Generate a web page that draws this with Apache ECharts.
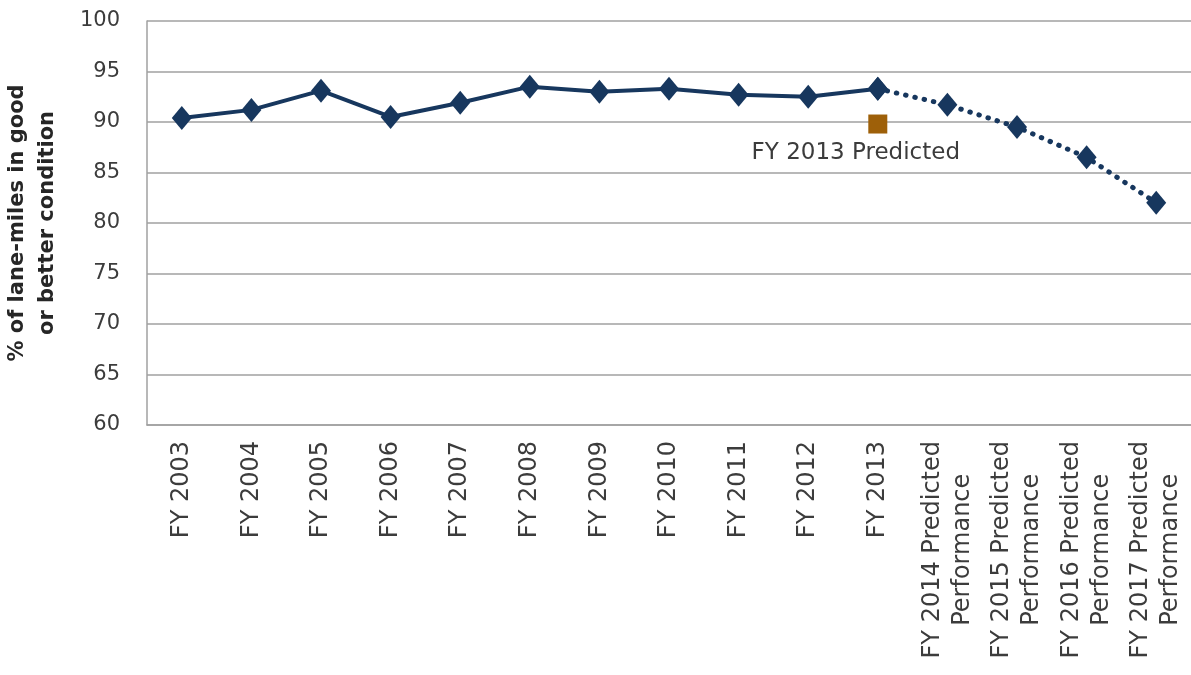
<!DOCTYPE html>
<html>
<head>
<meta charset="utf-8">
<script src="https://cdn.jsdelivr.net/npm/echarts@6/dist/echarts.min.js"></script>
<style>
  html, body { margin: 0; padding: 0; background: #ffffff; }
  #chart { width: 1191px; height: 675px; }
</style>
</head>
<body>
<div id="chart"></div>
<script>
// Fiscal years on the category axis
const categories = [
  'FY 2003', 'FY 2004', 'FY 2005', 'FY 2006', 'FY 2007', 'FY 2008',
  'FY 2009', 'FY 2010', 'FY 2011', 'FY 2012', 'FY 2013',
  'FY 2014 Predicted\nPerformance', 'FY 2015 Predicted\nPerformance',
  'FY 2016 Predicted\nPerformance', 'FY 2017 Predicted\nPerformance'
];

// Measured condition, FY 2003 - FY 2013
const actualValues = [90.4, 91.2, 93.1, 90.5, 91.9, 93.5, 93.0, 93.3, 92.7, 92.5, 93.3,
  null, null, null, null];

// Projected condition, continuing from FY 2013
const predictedValues = [null, null, null, null, null, null, null, null, null, null, 93.3,
  91.7, 89.5, 86.5, 82.0];

// The value that had been predicted for FY 2013
const fy2013PredictedLabel = 'FY 2013 Predicted';
const fy2013Predicted = 89.8;

// Value axis ticks
const yMin = 60;
const yMax = 100;
const yStep = 5;

const navy = '#17375E';
const brown = '#9E6009';
const font = '"DejaVu Sans", Verdana, sans-serif';

const chart = echarts.init(document.getElementById('chart'), null, { renderer: 'canvas' });

chart.setOption({
  animation: false,
  backgroundColor: '#ffffff',
  grid: { left: 147, right: 0, top: 21, bottom: 250, containLabel: false, outerBoundsMode: 'none' },
  xAxis: {
    type: 'category',
    data: categories,
    boundaryGap: true,
    axisLine: { show: true, lineStyle: { color: '#A0A0A0', width: 1.5 } },
    axisTick: { show: false },
    axisLabel: {
      interval: 0,
      rotate: 90,
      margin: 16,
      fontFamily: font,
      fontSize: 24,
      color: '#3C3C3C',
      formatter: function (v) {
        return v.split('\n').map(function (s) { return '{c|' + s + '}'; }).join('\n');
      },
      rich: {
        c: { align: 'center', fontFamily: font, fontSize: 24, color: '#3C3C3C', lineHeight: 30 }
      }
    }
  },
  yAxis: {
    type: 'value',
    min: yMin,
    max: yMax,
    interval: yStep,
    name: '% of lane-miles in good\nor better condition',
    nameLocation: 'middle',
    nameGap: 84,
    nameTextStyle: {
      fontFamily: font,
      fontSize: 21,
      fontWeight: 'bold',
      color: '#262626',
      lineHeight: 30
    },
    axisLine: { show: true, lineStyle: { color: '#A0A0A0', width: 1.5 } },
    axisTick: { show: false },
    axisLabel: {
      margin: 27,
      fontFamily: font,
      fontSize: 21,
      color: '#3C3C3C'
    },
    splitLine: { show: true, lineStyle: { color: '#A0A0A0', width: 1.5 } }
  },
  series: [
    {
      name: 'Actual',
      type: 'line',
      data: actualValues,
      symbol: 'diamond',
      symbolSize: [20, 24],
      itemStyle: { color: navy },
      lineStyle: { color: navy, width: 4 },
      z: 3
    },
    {
      name: 'Predicted',
      type: 'line',
      data: predictedValues,
      symbol: 'diamond',
      symbolSize: [20, 24],
      itemStyle: { color: navy },
      lineStyle: { color: navy, width: 5, type: [0.5, 9], cap: 'round' },
      z: 2
    },
    {
      name: fy2013PredictedLabel,
      type: 'scatter',
      data: [['FY 2013', fy2013Predicted]],
      symbol: 'rect',
      symbolSize: 19,
      itemStyle: { color: brown, opacity: 1 },
      label: {
        show: true,
        position: 'bottom',
        distance: 8,
        offset: [-22, 0],
        formatter: fy2013PredictedLabel,
        fontFamily: font,
        fontSize: 23,
        color: '#3C3C3C'
      },
      z: 4
    }
  ]
});
</script>
</body>
</html>
